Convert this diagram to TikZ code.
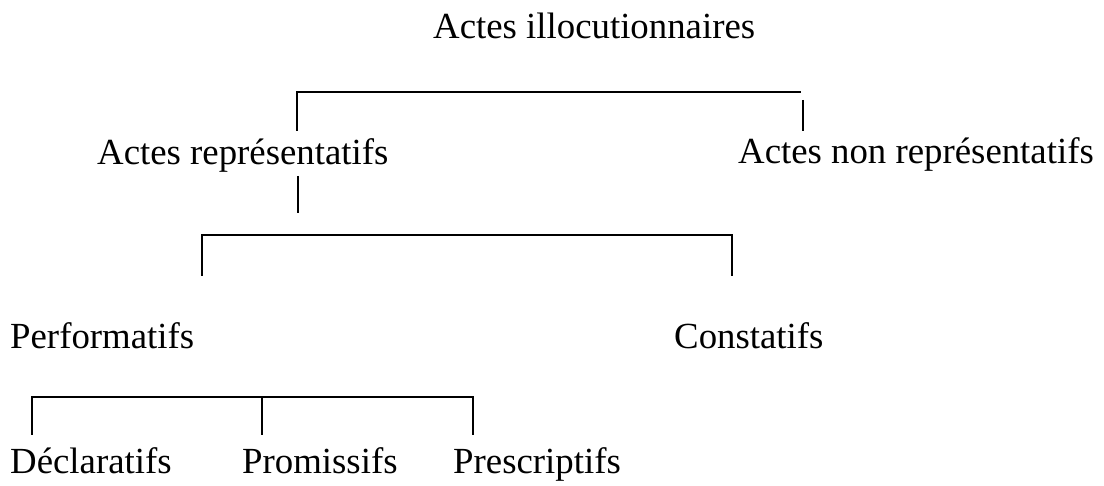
\documentclass[tikz,border=0pt]{standalone}
\usepackage{fontspec}
\setmainfont{Liberation Serif}
\begin{document}
\begin{tikzpicture}[x=1pt,y=-1pt,
  lbl/.style={anchor=base west,inner sep=0pt,font=\fontsize{36.8}{44}\selectfont},
  conn/.style={line width=1.8pt,line cap=butt}]
\useasboundingbox (0,0) rectangle (1104,486);
% labels
\node[lbl] (ill) at (433,39) {Actes illocutionnaires};
\node[lbl] (rep) at (97,165) {Actes représentatifs};
\node[lbl] (nrep) at (738,164) {Actes non représentatifs};
\node[lbl] (perf) at (10,349) {Performatifs};
\node[lbl] (cons) at (674,349) {Constatifs};
\node[lbl] (decl) at (10,474) {Déclaratifs};
\node[lbl] (prom) at (242,474) {Promissifs};
\node[lbl] (pres) at (453,474) {Prescriptifs};
% bracket 1
\coordinate (b1l) at (297,92);
\coordinate (b1r) at (801,92);
\coordinate (b1a) at (297,131);
\coordinate (b1b) at (803,100);
\coordinate (b1c) at (803,131);
\draw[conn] (b1a) -- (b1l) -- (b1r);
\draw[conn] (b1b) -- (b1c);
% stem from Actes representatifs
\coordinate (s1) at (298,176);
\coordinate (s2) at (298,213);
\draw[conn] (s1) -- (s2);
% bracket 2
\coordinate (b2l) at (202,235);
\coordinate (b2r) at (732,235);
\coordinate (b2a) at (202,276);
\coordinate (b2b) at (732,276);
\draw[conn] (b2a) -- (b2l) -- (b2r) -- (b2b);
% bracket 3
\coordinate (b3l) at (32,397);
\coordinate (b3m) at (262,397);
\coordinate (b3r) at (473,397);
\coordinate (b3a) at (32,435);
\coordinate (b3b) at (262,435);
\coordinate (b3c) at (473,435);
\draw[conn] (b3a) -- (b3l) -- (b3r) -- (b3c);
\draw[conn] (b3m) -- (b3b);
\end{tikzpicture}
\end{document}
